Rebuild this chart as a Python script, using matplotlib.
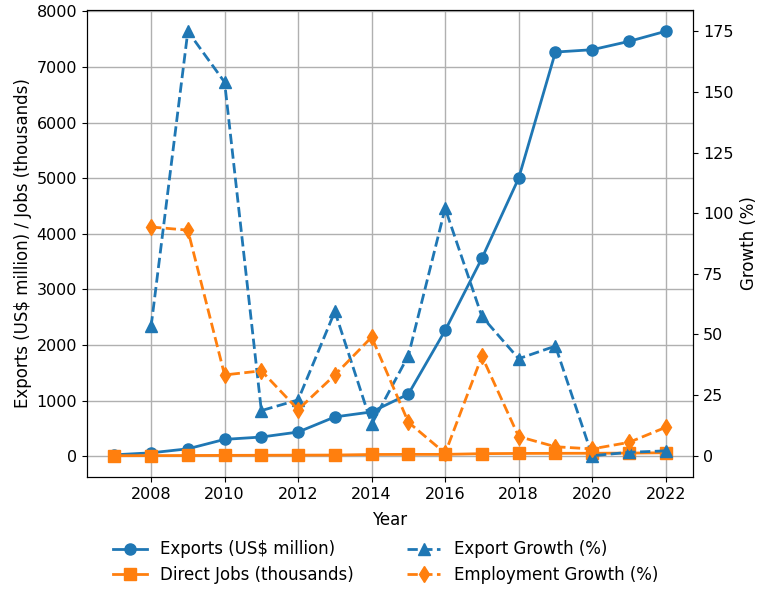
import matplotlib.pyplot as plt

years = list(range(2007, 2023))

# exports in US$ million, direct jobs in thousands
exports = [24, 60, 132, 302, 344, 434, 706, 796, 1117, 2262, 3560, 5000, 7270, 7312, 7462, 7644]
direct_jobs = [8, 10, 12, 14, 16, 18, 20, 30, 32, 32, 45, 49, 51, 52, 55, 61]

# year-on-year growth in percent (no value for the first year)
export_growth = [None, 53.3, 175, 154, 18.6, 23, 59.5, 13, 41.3, 102, 57.4, 40, 45.2, 0, 1.4, 2]
employment_growth = [None, 94.3, 93, 33.3, 35, 19, 33.3, 48.9, 13.8, 1, 41, 7.9, 3.7, 2.8, 5.5, 11.7]

plt.rcParams['font.size'] = 11.5
plt.rcParams['axes.labelsize'] = 12

fig, ax1 = plt.subplots(figsize=(7.61, 5.91), dpi=100)
fig.subplots_adjust(left=0.114, right=0.911, top=0.983, bottom=0.193)

l1, = ax1.plot(years, exports, marker='o', color='tab:blue', lw=2, ms=8,
               label='Exports (US$ million)')
l2, = ax1.plot(years, direct_jobs, marker='s', color='tab:orange', lw=2, ms=8,
               label='Direct Jobs (thousands)')
ax1.set_xlabel('Year', labelpad=7)
ax1.set_ylabel('Exports (US$ million) / Jobs (thousands)', labelpad=3)
ax1.grid(True, color='#b0b0b0', lw=1)

ax2 = ax1.twinx()
l3, = ax2.plot(years, export_growth, marker='^', ls='--', color='tab:blue', lw=2, ms=8,
               label='Export Growth (%)')
l4, = ax2.plot(years, employment_growth, marker='d', ls='--', color='tab:orange', lw=2, ms=8,
               label='Employment Growth (%)')
ax2.set_ylabel('Growth (%)', labelpad=5)

ax1.set_xticks(range(2008, 2023, 2))

ax1.legend(handles=[l1, l2, l3, l4], loc='upper center', bbox_to_anchor=(0.493, -0.104),
           ncol=2, frameon=False, fontsize=12, columnspacing=3.2,
           labelspacing=0.45)

fig.savefig('out.png')
